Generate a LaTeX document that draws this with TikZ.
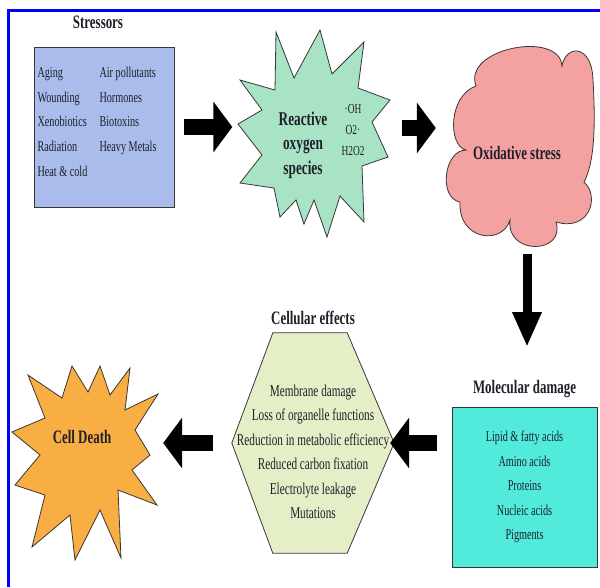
\documentclass[tikz,border=0pt]{standalone}
\usepackage{fontspec}
\setmainfont[FakeStretch=0.68]{Liberation Serif}
\usetikzlibrary{positioning,arrows.meta}

\definecolor{frameblue}{HTML}{0000FF}
\definecolor{stressblue}{HTML}{A9BCEC}
\definecolor{rosgreen}{HTML}{A8E3C5}
\definecolor{oxpink}{HTML}{F4A1A1}
\definecolor{molcyan}{HTML}{52EADB}
\definecolor{cellgreen}{HTML}{E4EFC8}
\definecolor{deathorange}{HTML}{F8AE42}
\definecolor{edgegray}{HTML}{3A3636}
\definecolor{inkdark}{HTML}{1F1F2A}

\tikzset{
  box/.style={draw=edgegray, line width=0.8pt, inner sep=0pt},
  outline/.style={draw=edgegray, line width=0.8pt},
  ghost/.style={inner sep=0pt, minimum width=#1},
  head/.style={font=\fontsize{19}{20}\selectfont\bfseries, text=inkdark},
  list/.style={font=\fontsize{15}{24.6}\selectfont, text=inkdark, align=center},
  chem/.style={font=\fontsize{13.8}{21}\selectfont, text=inkdark, align=center},
  blockarr/.style={line width=16pt, -{Triangle[length=19pt,width=50pt]}},
  downarr/.style={line width=9pt, -{Triangle[length=35pt,width=27pt]}}
}

\begin{document}
\begin{tikzpicture}[x=1pt,y=-1pt]
  \useasboundingbox (0,0) rectangle (600,587);
  \draw[frameblue, line width=3pt] (8.5,587) -- (8.5,10) -- (600,10);

  \node[box, fill=stressblue, minimum width=140pt, minimum height=160pt] (stress) at (104,127) {};
  \node[head, above=14pt of stress, xshift=-6pt] (sttitle) {Stressors};
  \node[list, align=left] (stlist) at ([xshift=-7pt,yshift=5pt]stress.center)
    {\begin{tabular}{@{}p{62pt}@{}l@{}}
      Aging & Air pollutants\\
      Wounding & Hormones\\
      Xenobiotics & Biotoxins\\
      Radiation & Heavy Metals\\
      Heat \& cold &
    \end{tabular}};

  \draw[outline, fill=rosgreen]
    (276,32) -- (294,78) -- (320,30) -- (332,74) -- (364,42) -- (358,88)
    -- (390,100) -- (372,122) -- (388,157) -- (362,166) -- (364,222)
    -- (340,196) -- (327,237) -- (314,200) -- (304,224) -- (296,200)
    -- (280,217) -- (274,188) -- (240,183) -- (262,155) -- (238,124)
    -- (262,110) -- (240,80) -- (275,90) -- cycle;
  \node[ghost=155pt, minimum height=190pt] (ros) at (315,128) {};
  \node[head, align=center, font=\fontsize{19.5}{24.5}\selectfont\bfseries] (rostxt) at (303,145) {Reactive\\oxygen\\species};
  \node[chem] (radicals) at (353,130) {·OH\\O2·\\H2O2};

  \draw[outline, fill=oxpink]
    (466,150) .. controls (448,146) and (448,96) .. (476,86)
    .. controls (462,48) and (560,30) .. (562,66)
    .. controls (566,44) and (592,44) .. (593,80)
    .. controls (595,115) and (596,160) .. (584,182)
    .. controls (600,196) and (590,232) .. (556,222)
    .. controls (566,254) and (506,256) .. (510,220)
    .. controls (502,246) and (458,240) .. (460,202)
    .. controls (438,198) and (444,150) .. cycle;
  \node[ghost=150pt, minimum height=198pt, head] (oxi) at (517,153) {Oxidative stress};

  \node[box, fill=molcyan, minimum width=145pt, minimum height=160pt, list] (mol) at (524.5,487)
    {Lipid \& fatty acids\\Amino acids\\Proteins\\Nucleic acids\\Pigments};
  \node[head, above=5pt of mol] (moltitle) {Molecular damage};

  \node[ghost=162pt, minimum height=220pt] (cell) at (313,443) {};
  \draw[outline, fill=cellgreen]
    (cell.west) -- ([xshift=41pt]cell.north west) -- ([xshift=-47pt]cell.north east)
    -- (cell.east) -- ([xshift=-47pt]cell.south east) -- ([xshift=41pt]cell.south west) -- cycle;
  \node[list, font=\fontsize{16.5}{24.5}\selectfont] (celltxt) at ([yshift=-9pt]cell.center)
    {Membrane damage\\Loss of organelle functions\\Reduction in metabolic efficiency\\Reduced carbon fixation\\Electrolyte leakage\\Mutations};
  \node[head, above=5pt of cell] (celltitle) {Cellular effects};

  \draw[outline, fill=deathorange]
    (12,432) -- (45,418) -- (28,375) -- (62,398) -- (72,366) -- (88,392)
    -- (100,366) -- (110,395) -- (130,368) -- (125,410) -- (158,394)
    -- (135,430) -- (150,455) -- (132,470) -- (157,505) -- (118,490)
    -- (121,558) -- (100,510) -- (75,560) -- (70,515) -- (32,547)
    -- (45,495) -- (15,485) -- (40,455) -- cycle;
  \node[ghost=146pt, minimum height=190pt] (death) at (85,461) {};
  \node[head] (deathtxt) at (82,437) {Cell Death};

  \draw[blockarr] ([xshift=10pt]stress.east) -- ([xshift=-5pt]stress.east -| ros.west);
  \draw[blockarr] ([xshift=9pt]ros.east) -- ([xshift=-6pt]ros.east -| oxi.west);
  \draw[downarr, shorten >=30pt] ([xshift=10pt,yshift=-2pt]oxi.south) -- ([xshift=10pt]oxi.south |- moltitle.north);
  \draw[blockarr] ([xshift=-15pt]mol.west |- cell.east) -- ([xshift=-4pt]cell.east);
  \draw[blockarr] ([xshift=-19pt]cell.west) -- ([xshift=5pt]cell.west -| death.east);
\end{tikzpicture}
\end{document}
